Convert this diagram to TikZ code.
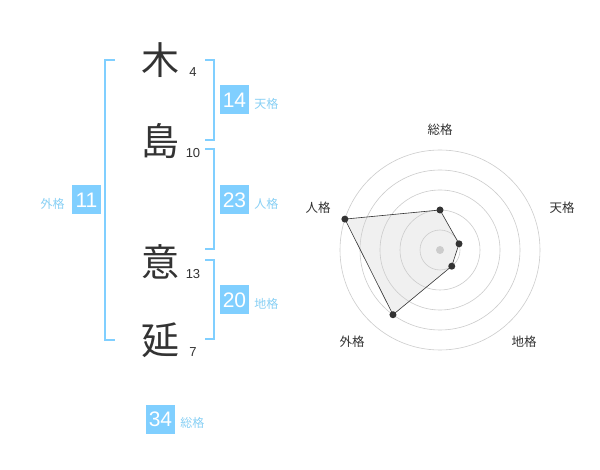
\documentclass[tikz,border=0pt]{standalone}
\usepackage{fontspec}
\setmainfont{Liberation Sans}
\newfontfamily\jpfont{Noto Sans CJK JP}
\definecolor{kakublue}{HTML}{80CFFF}
\definecolor{kakulabel}{HTML}{88D0F5}
\definecolor{inkgray}{HTML}{333333}
\begin{document}
\begin{tikzpicture}[x=1pt, y=-1pt,
		kanji/.style={font=\jpfont\fontsize{38}{38}\selectfont, text=inkgray, inner sep=0pt},
		stroke count/.style={font=\fontsize{13}{13}\selectfont, text=inkgray, inner sep=0pt},
		kaku box/.style={fill=kakublue, text=white, minimum size=29pt, inner sep=0pt, font=\fontsize{21}{21}\selectfont},
		kaku label/.style={font=\jpfont\fontsize{12}{12}\selectfont, text=kakulabel, inner sep=0pt},
		bracket/.style={draw=kakublue, line width=2pt},
		ring/.style={draw=gray!40, line width=0.6pt},
		dot/.style={circle, fill=inkgray, inner sep=0pt, minimum size=7pt},
		axis label/.style={font=\jpfont\fontsize{12.5}{12.5}\selectfont, text=inkgray}]
		\useasboundingbox[fill=white] (0,0) rectangle (600,470);
		\foreach \ch/\n/\y/\name in {木/4/60/ki, 島/10/141/shima, 意/13/262/i, 延/7/340/nobu}{
		  \node[kanji] (\name) at (160,\y) {\ch};
		  \node[stroke count] (\name n) at (193,\y+12) {\n};
		}
		\draw[bracket] (115,60) -| (105,340) -- (115,340);
		\draw[bracket] (205,60) -| (214,140) -- (205,140);
		\draw[bracket] (205,149) -| (214,249) -- (205,249);
		\draw[bracket] (205,260) -| (214,339) -- (205,339);
		\node[kaku box] (ten) at (234.5,100) {14};
		\node[kaku label, anchor=west] at ([xshift=5pt, yshift=-4pt]ten.east) {天格};
		\node[kaku box] (jin) at (234.5,200) {23};
		\node[kaku label, anchor=west] at ([xshift=5pt, yshift=-4pt]jin.east) {人格};
		\node[kaku box] (chi) at (234.5,300) {20};
		\node[kaku label, anchor=west] at ([xshift=5pt, yshift=-4pt]chi.east) {地格};
		\node[kaku box] (gai) at (86.5,200) {11};
		\node[kaku label, anchor=east] at ([xshift=-7pt, yshift=-4pt]gai.west) {外格};
		\node[kaku box] (so) at (160.5,419) {34};
		\node[kaku label, anchor=west] at ([xshift=5pt, yshift=-4pt]so.east) {総格};
		\begin{scope}[shift={(440,250)}]
		  \foreach \ang/\val/\name in {90/40/so, 18/20/ten, -54/20/chi, -126/80/gai, 162/100/jin}{
		    \coordinate (p\name) at (\ang:\val pt);
		  }
		  \fill[gray!12] (pso) -- (pten) -- (pchi) -- (pgai) -- (pjin) -- cycle;
		  \foreach \r in {20,40,...,100}{
		    \draw[ring] (0,0) circle[radius=\r pt];
		  }
		  \node[circle, fill=gray!40, inner sep=0pt, minimum size=8pt] (hub) at (0,0) {};
		  \draw[inkgray, line width=0.6pt] (pso) -- (pten) -- (pchi) -- (pgai) -- (pjin) -- cycle;
		  \foreach \name in {so,ten,chi,gai,jin}{
		    \node[dot] (d\name) at (p\name) {};
		  }
		  \node[axis label] (l so) at (0,-120) {総格};
		  \node[axis label] (l ten) at (122,-42) {天格};
		  \node[axis label] (l chi) at (84,92) {地格};
		  \node[axis label] (l gai) at (-88,92) {外格};
		  \node[axis label] (l jin) at (-122,-42) {人格};
		\end{scope}
	\end{tikzpicture}
\end{document}
